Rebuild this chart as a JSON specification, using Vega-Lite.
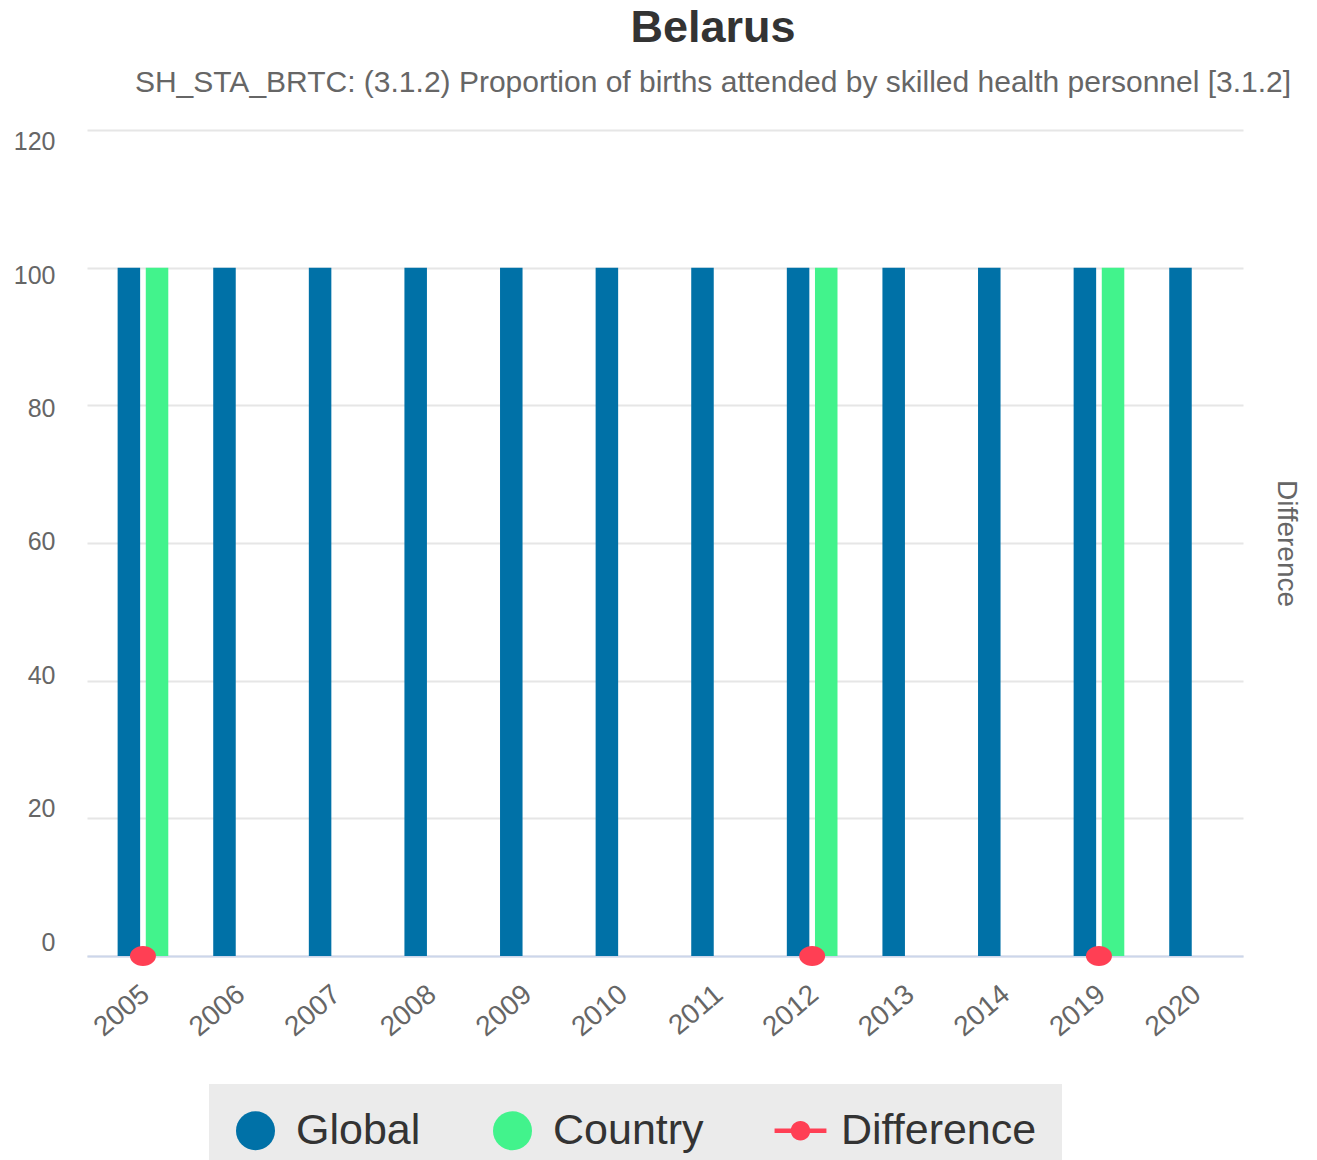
{
  "$schema": "https://vega.github.io/schema/vega-lite/v6.json",
  "width": 1156,
  "height": 826,
  "autosize": {"type": "none"},
  "padding": {"left": 87, "top": 130, "right": 74, "bottom": 204},
  "background": "white",
  "config": {
    "font": "Liberation Sans",
    "view": {"stroke": null}
  },
  "title": {
    "text": "Belarus",
    "subtitle": "SH_STA_BRTC: (3.1.2) Proportion of births attended by skilled health personnel [3.1.2]",
    "anchor": "middle",
    "frame": "group",
    "dx": 48,
    "offset": 32,
    "font": "Liberation Sans",
    "fontSize": 45,
    "fontWeight": "bold",
    "color": "#333333",
    "subtitleFont": "Liberation Sans",
    "subtitleFontSize": 30,
    "subtitleColor": "#666666",
    "subtitlePadding": 17
  },
  "data": {
    "values": [
      {"year": "2005", "series": "Global", "value": 100},
      {"year": "2005", "series": "Country", "value": 100},
      {"year": "2005", "series": "Difference", "value": 0},
      {"year": "2006", "series": "Global", "value": 100},
      {"year": "2007", "series": "Global", "value": 100},
      {"year": "2008", "series": "Global", "value": 100},
      {"year": "2009", "series": "Global", "value": 100},
      {"year": "2010", "series": "Global", "value": 100},
      {"year": "2011", "series": "Global", "value": 100},
      {"year": "2012", "series": "Global", "value": 100},
      {"year": "2012", "series": "Country", "value": 100},
      {"year": "2012", "series": "Difference", "value": 0},
      {"year": "2013", "series": "Global", "value": 100},
      {"year": "2014", "series": "Global", "value": 100},
      {"year": "2019", "series": "Global", "value": 100},
      {"year": "2019", "series": "Country", "value": 100},
      {"year": "2019", "series": "Difference", "value": 0},
      {"year": "2020", "series": "Global", "value": 100}
    ]
  },
  "layer": [
    {
      "transform": [{"filter": "datum.series !== 'Difference'"}],
      "mark": {"type": "bar"},
      "encoding": {
        "x": {
          "field": "year",
          "type": "nominal",
          "sort": null,
          "scale": {"paddingInner": 0.47, "paddingOuter": 0.281, "align": 0.57},
          "axis": {
            "title": null,
            "labelAngle": -40,
            "labelFontSize": 28,
            "labelColor": "#666666",
            "labelPadding": 24,
            "labelOffset": -6,
            "ticks": false,
            "domainColor": "#ccd6eb",
            "domainWidth": 2,
            "grid": false
          }
        },
        "xOffset": {
          "field": "series",
          "type": "nominal",
          "scale": {"domain": ["Global", "Country"], "paddingInner": 0.2, "paddingOuter": 0}
        },
        "y": {
          "field": "value",
          "type": "quantitative",
          "scale": {"domain": [0, 120]},
          "axis": {
            "title": null,
            "values": [0, 20, 40, 60, 80, 100, 120],
            "labelFontSize": 25,
            "labelColor": "#666666",
            "labelPadding": 32,
            "labelOffset": {"expr": "-14 + 0.215 * datum.value"},
            "ticks": false,
            "domain": false,
            "grid": true,
            "gridColor": "#e6e6e6",
            "gridWidth": 2
          }
        },
        "color": {
          "field": "series",
          "type": "nominal",
          "scale": {"domain": ["Global", "Country", "Difference"], "range": ["#0071a7", "#42f38c", "#ff3f54"]},
          "legend": {
            "title": null,
            "orient": "none",
            "direction": "horizontal",
            "legendX": 122,
            "legendY": 954,
            "fillColor": "#ebebeb",
            "padding": 25,
            "symbolType": "circle",
            "symbolSize": 1521,
            "symbolOpacity": 1,
            "symbolStrokeWidth": 0,
            "labelFontSize": 43,
            "labelColor": "#333333",
            "labelOffset": 19,
            "labelLimit": 0,
            "columnPadding": 70,
            "encode": {
              "symbols": {
                "update": {
                  "shape": {"signal": "datum.value === 'Difference' ? 'M-1.33,-0.12L1.33,-0.12L1.33,0.12L-1.33,0.12Z M-0.5,0A0.5,0.5 0 1,1 0.5,0A0.5,0.5 0 1,1 -0.5,0Z' : 'circle'"}
                }
              }
            }
          }
        }
      }
    },
    {
      "transform": [{"filter": "datum.series === 'Difference'"}],
      "mark": {
        "type": "point",
        "filled": true,
        "opacity": 1,
        "size": 676,
        "shape": "M-1,0A1,0.77 0 1,0 1,0A1,0.77 0 1,0 -1,0Z"
      },
      "encoding": {
        "x": {"field": "year", "type": "nominal", "sort": null},
        "y": {
          "field": "value",
          "type": "quantitative",
          "scale": {"domain": [0, 120]},
          "axis": {
            "orient": "right",
            "title": "Difference",
            "titleAngle": 90,
            "titleFontSize": 28,
            "titleFontWeight": "normal",
            "titleColor": "#666666",
            "titlePadding": 28,
            "labels": false,
            "ticks": false,
            "domain": false,
            "grid": false
          }
        },
        "color": {"field": "series", "type": "nominal"}
      }
    }
  ],
  "resolve": {"scale": {"y": "independent"}}
}
